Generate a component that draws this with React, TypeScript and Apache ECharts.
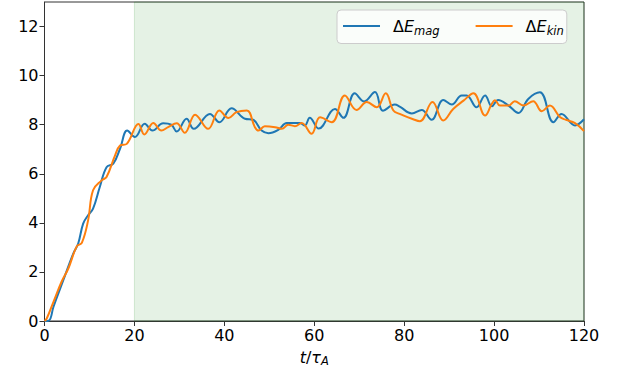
import React, { useEffect, useRef } from "react";
import * as echarts from "echarts";

// ΔE_mag (blue) — time points and values
const tMag = [0, 1, 2, 4.2, 6.4, 7.5, 8.6, 9.7, 10.8, 12.3, 13.8, 15.3, 16.8, 18.4, 20.1, 22.3, 24, 26.4, 28.2, 29.4, 31.6, 33.2, 36.8, 38.9, 41.6, 44.6, 46.4, 48.3, 49.8, 52, 53.9, 56.8, 57.9, 59, 61, 64.6, 66.5, 69, 71.1, 73.5, 75.3, 77.9, 79, 81.7, 83.9, 86.1, 88.7, 90.6, 92.8, 93.9, 96.1, 98, 99.5, 100.9, 103.2, 105.4, 107.6, 110.2, 113.2, 115, 118, 120];
const eMag = [0, 0.02, 0.58, 1.67, 2.75, 3.16, 3.97, 4.31, 4.58, 5.46, 6.27, 6.41, 7.02, 7.76, 7.5, 8.04, 7.76, 8.06, 8.0, 7.72, 8.24, 7.83, 8.44, 8.1, 8.67, 8.24, 8.2, 7.76, 7.65, 7.79, 8.07, 8.07, 7.97, 8.28, 7.84, 8.64, 8.28, 9.28, 8.95, 9.33, 8.57, 8.82, 8.74, 8.46, 8.6, 8.2, 9.01, 8.82, 9.19, 9.19, 8.71, 9.19, 8.75, 9.01, 8.78, 8.48, 9.05, 9.32, 8.1, 8.44, 7.97, 8.22];

// ΔE_kin (orange) — time points and values
const tKin = [0, 0.5, 2, 3.8, 5.3, 7.2, 8.3, 9.7, 10.8, 12.7, 13.8, 15.7, 16.8, 18.3, 20.9, 22.2, 24.2, 26, 27.5, 29.4, 31.2, 33.5, 36.4, 38.9, 40.9, 42.7, 45, 46.8, 47.6, 49, 51.3, 52.8, 54.2, 55.7, 57.2, 59.4, 61.3, 63.9, 66.8, 69.4, 71.7, 73.9, 75.9, 77.6, 79, 82, 83.5, 86.3, 88.7, 90.9, 93.2, 95.4, 98, 99.5, 100.2, 101.3, 103.2, 104.6, 106.5, 108.7, 110.6, 112.4, 114.7, 116, 118, 120];
const eKin = [0, 0.1, 0.78, 1.6, 2.14, 3.05, 3.18, 4.1, 5.33, 5.73, 5.87, 6.75, 7.15, 7.22, 8.03, 7.6, 8.07, 7.76, 7.9, 8.06, 7.67, 8.41, 7.83, 8.58, 8.27, 8.51, 8.58, 7.9, 7.76, 7.94, 7.9, 7.83, 8.0, 7.94, 8.07, 7.63, 8.3, 8.1, 9.19, 8.6, 8.92, 8.71, 9.28, 8.58, 8.44, 8.22, 8.14, 8.92, 8.17, 8.64, 8.98, 9.28, 8.37, 8.85, 9.0, 8.78, 8.78, 8.96, 8.78, 8.96, 8.55, 8.78, 8.3, 8.2, 8.06, 7.74];

const xTicks = [0, 20, 40, 60, 80, 100, 120];
const yTicks = [0, 2, 4, 6, 8, 10, 12];
const shadeRange = [20, 120];
const seriesNames = ["ΔE_mag", "ΔE_kin"];

const FONT = "DejaVu Sans";

export default function App() {
  const ref = useRef<HTMLDivElement>(null);
  useEffect(() => {
    if (!ref.current) return;
    const chart = echarts.init(ref.current, null, { renderer: "svg" });
    const zip = (t: number[], v: number[]) => t.map((x, i) => [x, v[i]]);
    const richLegend = {
      d: { fontFamily: FONT, fontSize: 16, color: "#000", padding: [0, 0, 0, 8] },
      e: { fontFamily: FONT, fontSize: 16, fontStyle: "italic", color: "#000" },
      s: { fontFamily: FONT, fontSize: 11.5, fontStyle: "italic", color: "#000", padding: [9, 0, 0, 0] },
    };
    chart.setOption({
      animation: false,
      grid: {
        left: 44.5, right: 38, top: 2, bottom: 53,
        show: true, borderColor: "#333", borderWidth: 1, backgroundColor: "transparent",
      },
      legend: {
        left: 337, top: 10,
        padding: [8, 3, 7, 6],
        itemGap: 36,
        itemWidth: 37, itemHeight: 2,
        icon: "rect",
        backgroundColor: "rgba(255,255,255,0.8)",
        borderColor: "#cccccc", borderWidth: 1, borderRadius: 4,
        data: seriesNames,
        formatter: (name: string) => {
          const sub = name.split("_")[1];
          return `{d|Δ}{e|E}{s|${sub}}`;
        },
        textStyle: { rich: richLegend },
      },
      xAxis: {
        type: "value", min: 0, max: 120, interval: 20,
        name: "{i|t}{n|/}{i|τ}{s|A}",
        nameLocation: "middle", nameGap: 26,
        nameTextStyle: {
          rich: {
            i: { fontFamily: FONT, fontSize: 16, fontStyle: "italic", color: "#000" },
            n: { fontFamily: FONT, fontSize: 16, color: "#000" },
            s: { fontFamily: FONT, fontSize: 11.5, fontStyle: "italic", color: "#000", padding: [8, 0, 0, 0] },
          },
        },
        axisLine: { show: true, lineStyle: { color: "#333", width: 1 } },
        axisTick: { show: true, length: 5, inside: false, lineStyle: { color: "#333" }, customValues: xTicks },
        axisLabel: { fontFamily: FONT, fontSize: 16, color: "#000", margin: 6, customValues: xTicks },
        splitLine: { show: false },
      },
      yAxis: {
        type: "value", min: 0, max: 13, interval: 2,
        axisLine: { show: true, lineStyle: { color: "#333", width: 1 } },
        axisTick: { show: true, length: 5, inside: false, lineStyle: { color: "#333" }, customValues: yTicks },
        axisLabel: { fontFamily: FONT, fontSize: 16, color: "#000", margin: 6, customValues: yTicks },
        splitLine: { show: false },
      },
      series: [
        {
          name: seriesNames[0], type: "line", data: zip(tMag, eMag),
          smooth: 0.4, symbol: "none", lineStyle: { color: "#1f77b4", width: 2 }, itemStyle: { color: "#1f77b4" },
          z: 3,
          markArea: {
            silent: true,
            itemStyle: { color: "rgba(0,128,0,0.1)", borderColor: "rgba(0,128,0,0.15)", borderWidth: 1 },
            data: [[{ xAxis: shadeRange[0] }, { xAxis: shadeRange[1] }]],
          },
        },
        {
          name: seriesNames[1], type: "line", data: zip(tKin, eKin),
          smooth: 0.4, symbol: "none", lineStyle: { color: "#ff7f0e", width: 2 }, itemStyle: { color: "#ff7f0e" },
          z: 4,
        },
      ],
    });
    return () => chart.dispose();
  }, []);
  return <div ref={ref} style={{ width: 622, height: 374, position: "absolute", left: 0, top: 0 }} />;
}
